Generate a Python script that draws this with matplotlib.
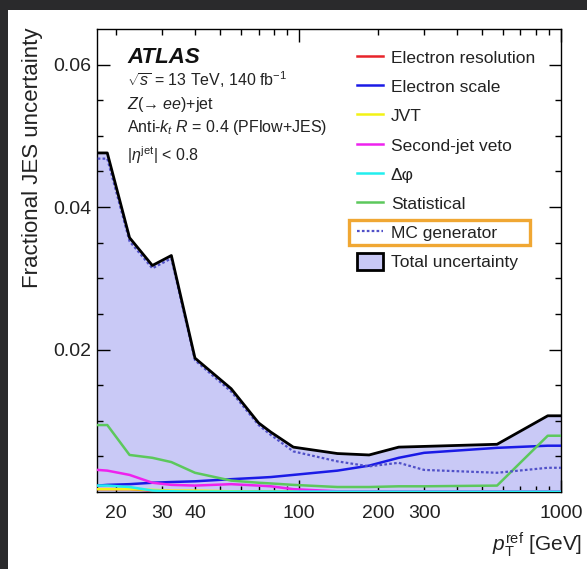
import numpy as np
import matplotlib
matplotlib.use("Agg")
import matplotlib.pyplot as plt
from matplotlib.lines import Line2D
from matplotlib.patches import Patch, Rectangle
from matplotlib.ticker import FixedLocator, FuncFormatter

plt.rcParams["font.family"] = ["Liberation Sans", "DejaVu Sans"]
plt.rcParams["mathtext.fontset"] = "custom"
plt.rcParams["mathtext.rm"] = "Liberation Sans"
plt.rcParams["mathtext.it"] = "Liberation Sans:italic"
plt.rcParams["mathtext.bf"] = "Liberation Sans:bold"

# pT points (GeV) where the uncertainty curves are sampled
pt = [17, 18.5, 22.5, 27.5, 32.5, 40, 55, 70, 78, 95, 140, 185, 240, 300, 570, 890, 1000]

total     = [0.0476, 0.0476, 0.0357, 0.0318, 0.0332, 0.0188, 0.0145, 0.0097, 0.0084, 0.0063,
             0.0054, 0.0052, 0.0063, 0.0064, 0.0067, 0.0107, 0.0107]
mc_gen    = [0.0468, 0.0468, 0.0352, 0.0314, 0.0328, 0.0185, 0.0141, 0.0094, 0.0080, 0.0057,
             0.0043, 0.0036, 0.0041, 0.0031, 0.0027, 0.0034, 0.0034]
el_scale  = [0.0009, 0.0010, 0.0011, 0.0013, 0.0014, 0.0015, 0.0018, 0.0020, 0.0021, 0.0024,
             0.0030, 0.0037, 0.0048, 0.0055, 0.0062, 0.0065, 0.0065]
stat      = [0.0094, 0.0094, 0.0052, 0.0048, 0.0042, 0.0027, 0.0016, 0.0013, 0.0012, 0.0010,
             0.0007, 0.0007, 0.0008, 0.0008, 0.0009, 0.0079, 0.0079]
veto2     = [0.0031, 0.0030, 0.0024, 0.0013, 0.0010, 0.0009, 0.0011, 0.0009, 0.0008, 0.0004,
             0.0001, 0.0001, 0.0001, 0.0001, 0.0001, 0.0001, 0.0001]
dphi      = [0.0009, 0.0009, 0.0007, 0.0002, 0.0001, 0.00005, 0.00005, 0.00005, 0.00005, 0.00005,
             0.00005, 0.00005, 0.00005, 0.00005, 0.00005, 0.00005, 0.00005]
jvt       = [0.0004, 0.0004, 0.0004, 0.0003, 0.0002, 0.0002, 0.0001, 0.00005, 0.00005, 0.00005,
             0.00005, 0.00005, 0.00005, 0.00005, 0.00005, 0.00005, 0.00005]
el_res    = [0.0004, 0.0004, 0.0004, 0.0002, 0.0001, 0.00005, 0.00005, 0.00005, 0.00005, 0.00005,
             0.00005, 0.00005, 0.00005, 0.00005, 0.00005, 0.00005, 0.00005]

xtick_labels = {20: "20", 30: "30", 40: "40", 100: "100", 200: "200", 300: "300", 1000: "1000"}

FILL = "#c9c9f6"
series = [
    ("Electron resolution", el_res, "#e8242a"),
    ("Electron scale", el_scale, "#1a1ae6"),
    ("JVT", jvt, "#f2f215"),
    ("Second-jet veto", veto2, "#ee22ee"),
    ("Δφ", dphi, "#22eeee"),
    ("Statistical", stat, "#5cc85c"),
]
MC_COL = "#5050c8"
MC_LS = (0, (1.2, 1.0))

fig = plt.figure(figsize=(5.87, 5.69), dpi=100, facecolor="#2a2a2c")
# white page area
fig.patches.append(Rectangle((8 / 587, 0), 1, 1 - 10 / 569, transform=fig.transFigure,
                             facecolor="white", edgecolor="none", zorder=-10))
ax = fig.add_axes([97 / 587, 1 - 492 / 569, (561 - 97) / 587, (492 - 29) / 569])

ax.fill_between(pt, 0, total, color=FILL, lw=0, zorder=1)
for lab, vals, col in series:
    ax.plot(pt, vals, color=col, lw=1.8, zorder=3)
ax.plot(pt, mc_gen, color=MC_COL, lw=1.6, ls=MC_LS, zorder=4)
ax.plot(pt, total, color="black", lw=2.0, zorder=5)

ax.set_xscale("log")
ax.set_xlim(16.9, 1000)
ax.set_ylim(0, 0.065)

ax.xaxis.set_major_locator(FixedLocator([100, 1000]))
ax.xaxis.set_minor_locator(FixedLocator([v * d for d in (10, 100) for v in range(2, 10)]))
lab_fmt = FuncFormatter(lambda v, p: xtick_labels.get(int(round(v)), ""))
ax.xaxis.set_major_formatter(lab_fmt)
ax.xaxis.set_minor_formatter(lab_fmt)
ax.set_yticks([0.02, 0.04, 0.06])
ax.set_yticklabels(["0.02", "0.04", "0.06"])
ax.yaxis.set_minor_locator(FixedLocator(np.arange(0.005, 0.065, 0.005)))
ax.tick_params(which="both", direction="in", top=True, right=True, labelsize=14,
               colors="black", labelcolor="#222222")
ax.tick_params(which="major", length=9, width=1.0)
ax.tick_params(which="minor", length=4.5, width=1.0)
ax.tick_params(axis="x", which="both", pad=9)
ax.tick_params(axis="y", which="both", pad=4)
for s in ax.spines.values():
    s.set_linewidth(1.0)

fig.text(33 / 587, 1 - 28 / 569, "Fractional JES uncertainty", rotation=90,
         ha="center", va="top", fontsize=16, color="#222222")
fig.text(582 / 587, 1 - 545 / 569, "$p_{\\mathrm{T}}^{\\mathrm{ref}}$ [GeV]",
         ha="right", va="center", fontsize=15, color="#222222")

# ATLAS label block
tx = 127 / 587
fig.text(tx, 1 - 57 / 569, "ATLAS", fontsize=16, weight="bold", style="italic",
         va="center", color="#111111")
info = ["$\\sqrt{s}$ = 13 TeV, 140 fb$^{-1}$",
        "$Z$(→ $ee$)+jet",
        "Anti-$k_{t}$ $R$ = 0.4 (PFlow+JES)",
        "|$\\eta^{\\mathrm{jet}}$| < 0.8"]
info_y = [80, 104, 128, 155]
for t, yy in zip(info, info_y):
    fig.text(tx, 1 - yy / 569, t, fontsize=11.5, va="center", color="#222222")

handles = [Line2D([], [], color=c, lw=1.8) for _, _, c in series]
handles.append(Line2D([], [], color=MC_COL, lw=1.6, ls=MC_LS))
handles.append(Patch(facecolor=FILL, edgecolor="black", lw=2.0))
labels = [l for l, _, _ in series] + ["MC generator", "Total uncertainty"]
leg = ax.legend(handles, labels, loc="upper left", bbox_to_anchor=(357 / 587, 1 - 49 / 569),
                bbox_transform=fig.transFigure, frameon=False, fontsize=12.5,
                handlelength=1.5, handleheight=1.1, handletextpad=0.45,
                labelspacing=0.685, borderpad=0, borderaxespad=0)
for t in leg.get_texts():
    t.set_color("#222222")

# highlight around the MC generator entry
fig.patches.append(Rectangle((349 / 587, 1 - 245 / 569), (530 - 349) / 587, 25 / 569,
                             transform=fig.transFigure, fill=False,
                             edgecolor="#f0a733", lw=2.4, zorder=10))

fig.savefig("out.png", dpi=100, facecolor=fig.get_facecolor())
